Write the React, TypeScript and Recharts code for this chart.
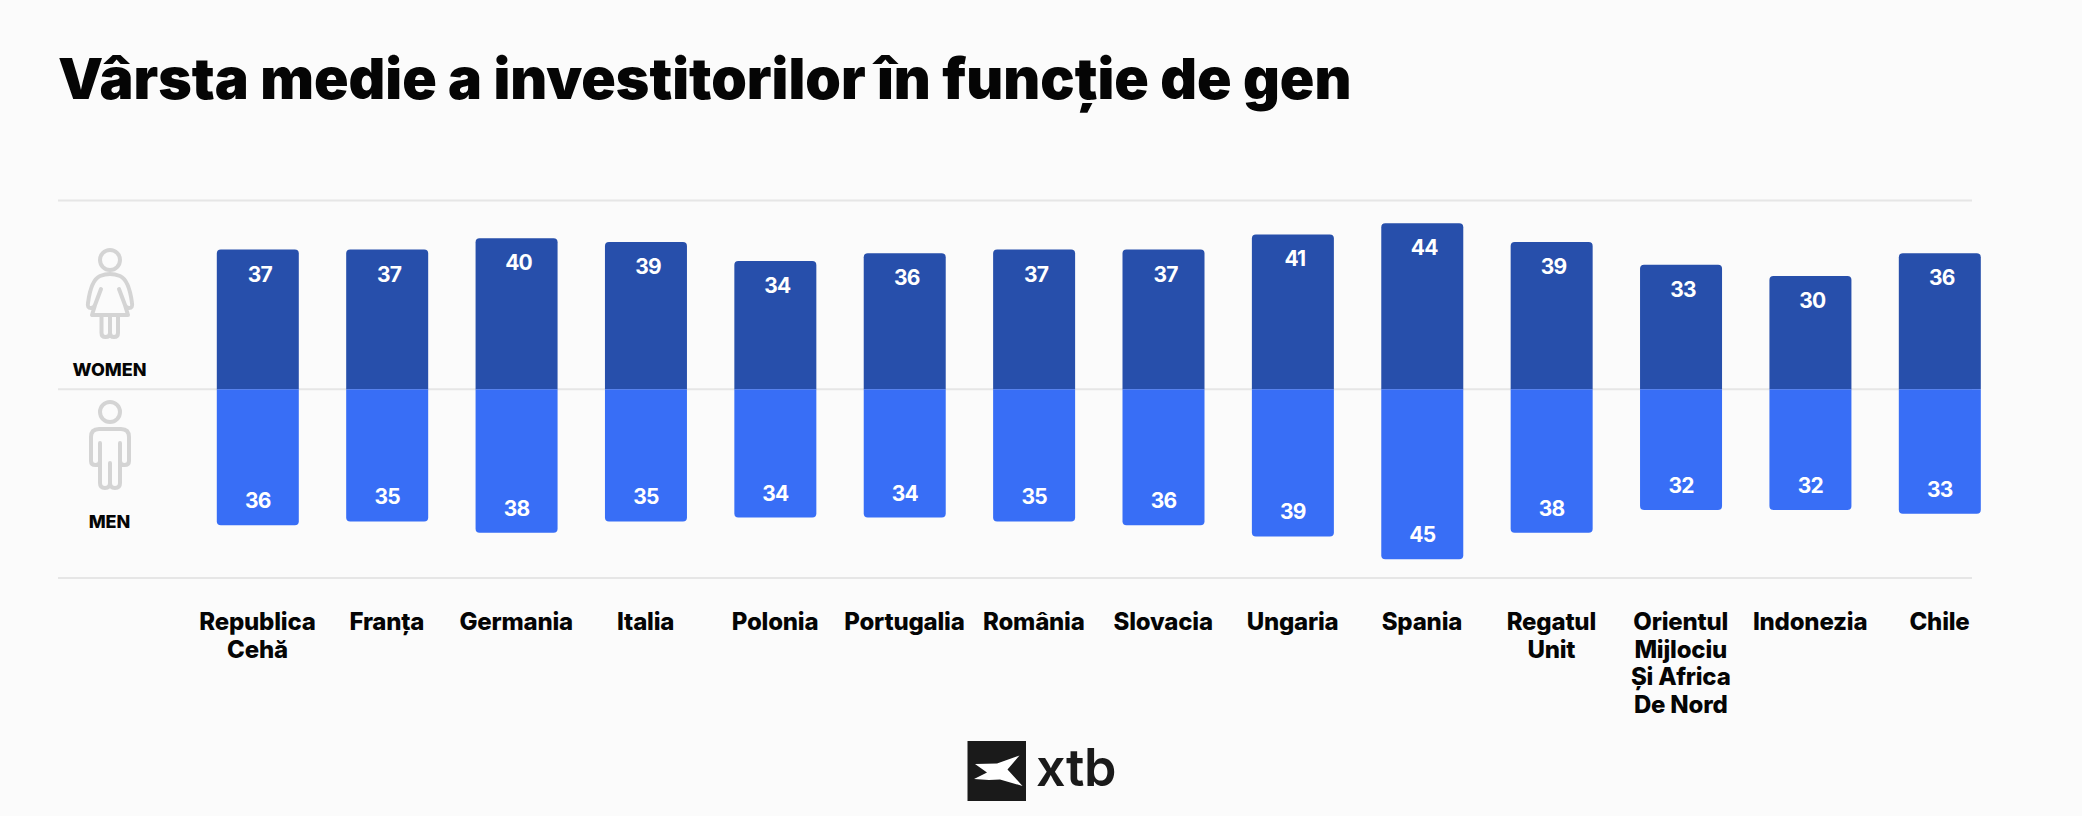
import React from "react";
import { BarChart, Bar, XAxis, YAxis, CartesianGrid, LabelList } from "recharts";

const categories = ["Republica Cehă", "Franța", "Germania", "Italia", "Polonia", "Portugalia", "România", "Slovacia", "Ungaria", "Spania", "Regatul Unit", "Orientul Mijlociu Și Africa De Nord", "Indonezia", "Chile"];
const tickLines: Record<string, string[]> = {
  "Republica Cehă": ["Republica", "Cehă"],
  "Regatul Unit": ["Regatul", "Unit"],
  "Orientul Mijlociu Și Africa De Nord": ["Orientul", "Mijlociu", "Și Africa", "De Nord"],
};
const women = [37, 37, 40, 39, 34, 36, 37, 37, 41, 44, 39, 33, 30, 36];
const men = [36, 35, 38, 35, 34, 34, 35, 36, 39, 45, 38, 32, 32, 33];
const rows = categories.map((name, i) => ({ name, women: women[i], men: -men[i] }));

const FONT = "Inter, sans-serif";
const DARK = "#274FAB";
const BLUE = "#386EF6";
const ICON = "#D4D4D4";

const CountryTick = (props: any) => {
  const { x, y, payload } = props;
  const lines = tickLines[payload.value] ?? [payload.value];
  return (
    <text x={x} y={y + 44} textAnchor="middle" fontFamily={FONT} fontWeight={800} fontSize={24} letterSpacing={-0.2} fill="#050505">
      {lines.map((l, i) => (
        <tspan key={l} x={x} dy={i === 0 ? 0 : 27.6}>{l}</tspan>
      ))}
    </text>
  );
};

const WomenLabel = (props: any) => {
  const { x, y, width, value } = props;
  return (
    <text x={x + width / 2 + 2} y={y + 32} textAnchor="middle" fontFamily={FONT} fontWeight={700} fontSize={21} letterSpacing={-0.8} fill="#fff">
      {value}
    </text>
  );
};

const MenLabel = (props: any) => {
  const { x, y, width, height, value } = props;
  const bottom = Math.max(y, y + height);
  return (
    <text x={x + width / 2} y={bottom - 17} textAnchor="middle" fontFamily={FONT} fontWeight={700} fontSize={21} letterSpacing={-0.8} fill="#fff">
      {Math.abs(value)}
    </text>
  );
};

const overlay: React.CSSProperties = { position: "absolute", left: 0, top: 0 };

export default function App() {
  return (
    <div style={{ position: "absolute", left: 0, top: 0, width: 2082, height: 816, background: "#FBFBFB", overflow: "hidden" }}>
      <div style={{ position: "absolute", left: 58, top: 44, fontFamily: FONT, fontWeight: 900, fontSize: 57, lineHeight: "70px", letterSpacing: 0, color: "#050505", whiteSpace: "nowrap" }}>
        Vârsta medie a investitorilor în funcție de gen
      </div>
      <div style={overlay}>
        <BarChart
          width={2082}
          height={816}
          data={rows}
          stackOffset="sign"
          margin={{ top: 200.5, right: 77.8, bottom: 38, left: 58 }}
        >
          <CartesianGrid vertical={false} x={58} width={1914} stroke="#E6E6E6" strokeWidth={2} />
          <XAxis dataKey="name" height={200} interval={0} axisLine={false} tickLine={false} padding={{ left: 134.8, right: 0 }} tick={<CountryTick />} />
          <YAxis hide width={0} domain={[-50, 50]} ticks={[-50, 0, 50]} />
          <Bar dataKey="women" stackId="a" fill={DARK} barSize={82} radius={[4, 4, 0, 0]} isAnimationActive={false}>
            <LabelList dataKey="women" content={<WomenLabel />} />
          </Bar>
          <Bar dataKey="men" stackId="a" fill={BLUE} barSize={82} radius={[4, 4, 0, 0]} isAnimationActive={false}>
            <LabelList dataKey="men" content={<MenLabel />} />
          </Bar>
        </BarChart>
      </div>
      <svg width={2082} height={816} style={{ ...overlay, pointerEvents: "none" }}>
        <g fill="none" stroke={ICON} strokeWidth={4} strokeLinejoin="round" strokeLinecap="round">
          <circle cx={110} cy={260} r={10} />
          <path d="M88 303 Q91 280 100 276 Q110 272 120 276 Q129 280 132 303 Q133 308 129 308 Q126 308 125 305 L119 289 M88 303 Q87 308 91 308 Q94 308 95 305 L101 289 M96 302 L92 315 H128 L124 302 M101.5 316 V333 Q101.5 337 105.5 337 Q110 337 110 333 V316 M110 333 Q110 337 114 337 Q118 337 118 333 V316" />
          <circle cx={110} cy={412} r={10} />
          <path d="M100 443 V483 Q100 488 105 488 Q110 488 110 483 V463 M110 483 Q110 488 115 488 Q120 488 120 483 V443 M100 461 Q100 465 95.5 465 Q91 465 91 461 V437 Q91 429 99 429 H121 Q129 429 129 437 V461 Q129 465 124.5 465 Q120 465 120 461" />
        </g>
        <text x={109.5} y={376} textAnchor="middle" fontFamily={FONT} fontWeight={800} fontSize={18} fill="#050505">WOMEN</text>
        <text x={109.5} y={528} textAnchor="middle" fontFamily={FONT} fontWeight={800} fontSize={18} fill="#050505">MEN</text>
        <rect x={967.5} y={741} width={58.5} height={60} fill="#1A1A1A" />
        <path d="M975 764 L997 763.5 L1019.5 755.5 L1007.5 769.5 L1022.5 786 L1000 779.5 L989 780 L974 779 L987 772.5 Z" fill="#fff" />
        <text x={1036} y={786} fontFamily={FONT} fontWeight={600} fontSize={52} letterSpacing={-0.5} fill="#1A1A1A">xtb</text>
      </svg>
    </div>
  );
}
